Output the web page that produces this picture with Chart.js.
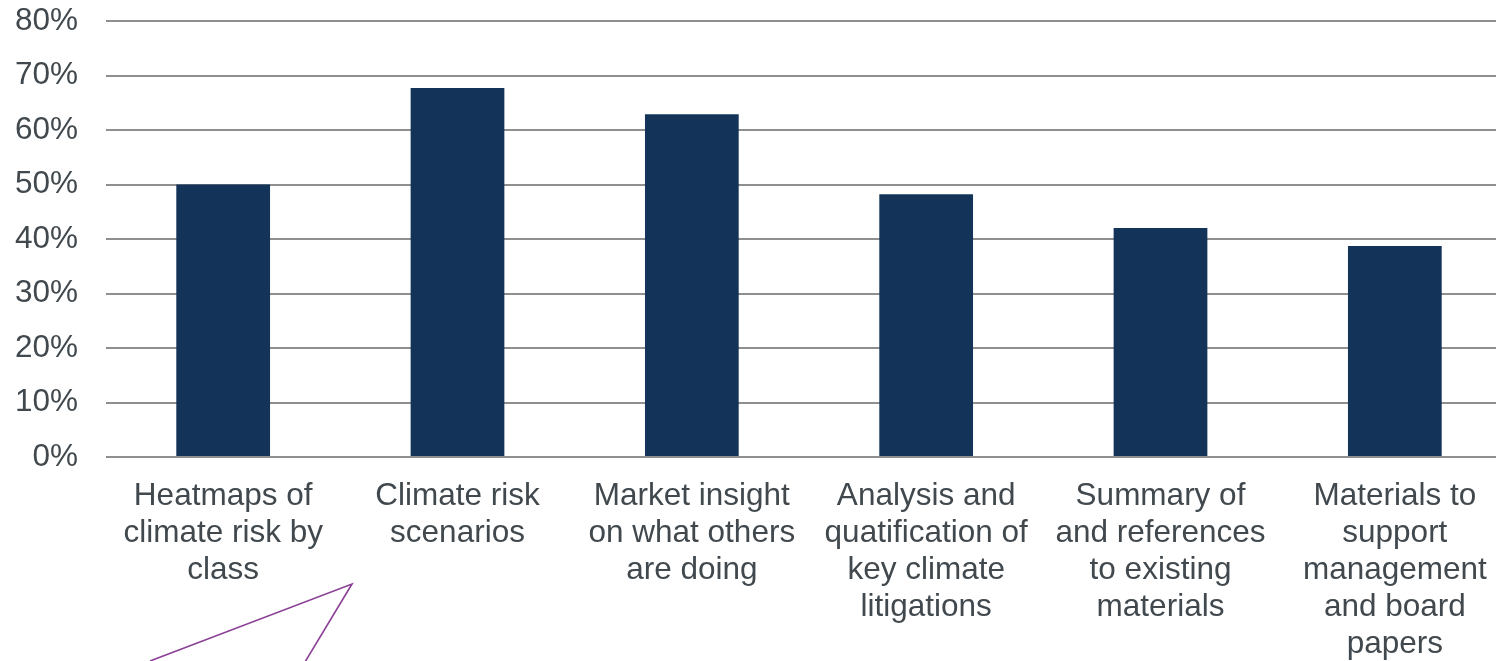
<!DOCTYPE html>
<html>
<head>
<meta charset="utf-8">
<script src="https://cdn.jsdelivr.net/npm/chart.js@4/dist/chart.umd.min.js"></script>
<style>
  html, body { margin: 0; padding: 0; background: #ffffff; overflow: hidden; }
  #wrap { width: 1512px; height: 661px; }
</style>
</head>
<body>
<div id="wrap"><canvas id="c" width="1512" height="661"></canvas></div>
<script>
const categories = [
  ["Heatmaps of", "climate risk by", "class"],
  ["Climate risk", "scenarios"],
  ["Market insight", "on what others", "are doing"],
  ["Analysis and", "quatification of", "key climate", "litigations"],
  ["Summary of", "and references", "to existing", "materials"],
  ["Materials to", "support", "management", "and board", "papers"]
];
const values = [50.0, 67.7, 62.9, 48.2, 42.0, 38.7];
const yTicks = [0, 10, 20, 30, 40, 50, 60, 70, 80];

const textColor = '#41494e';
const gridColor = '#8f8f8f';
const fontFamily = '"Liberation Sans", Arial, sans-serif';

const annotationPlugin = {
  id: 'purpleArrow',
  afterDraw(chart) {
    const ctx = chart.ctx;
    ctx.save();
    ctx.strokeStyle = '#8b3f96';
    ctx.lineWidth = 1.6;
    ctx.beginPath();
    ctx.moveTo(150, 661);
    ctx.lineTo(352, 584);
    ctx.lineTo(305, 662);
    ctx.stroke();
    ctx.restore();
  }
};

new Chart(document.getElementById('c'), {
  type: 'bar',
  data: {
    labels: categories,
    datasets: [{
      data: values,
      backgroundColor: '#133458',
      borderWidth: 0,
      categoryPercentage: 1.0,
      barPercentage: 0.4
    }]
  },
  options: {
    responsive: false,
    animation: false,
    devicePixelRatio: 1,
    layout: { padding: { top: 21, left: 0, right: 0, bottom: 0 } },
    plugins: {
      legend: { display: false },
      tooltip: { enabled: false }
    },
    scales: {
      x: {
        grid: { display: false, drawTicks: false },
        border: { display: false },
        ticks: {
          color: textColor,
          font: { family: fontFamily, size: 31.5, lineHeight: 37 / 31.5 },
          padding: 21,
          maxRotation: 0,
          autoSkip: false
        },
        afterFit(scale) { scale.height = 204; scale.paddingLeft = 0; scale.paddingRight = 0; }
      },
      y: {
        min: 0,
        max: 80,
        afterBuildTicks(scale) { scale.ticks = yTicks.map(v => ({ value: v })); },
        grid: { color: gridColor, lineWidth: 2, drawTicks: false },
        border: { display: false },
        ticks: {
          color: textColor,
          font: { family: fontFamily, size: 31.5 },
          padding: 28,
          callback: v => v + '%'
        },
        afterFit(scale) { scale.width = 106; scale.paddingTop = 0; scale.paddingBottom = 0; }
      }
    }
  },
  plugins: [annotationPlugin]
});
</script>
</body>
</html>
